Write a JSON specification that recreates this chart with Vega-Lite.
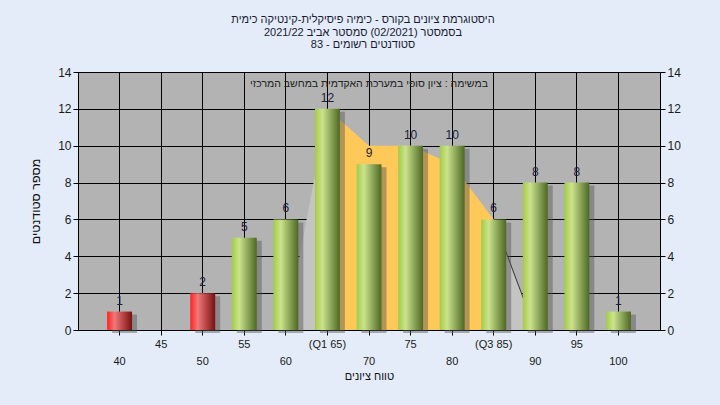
{
  "$schema": "https://vega.github.io/schema/vega-lite/v6.json",
  "width": 582,
  "height": 258,
  "autosize": "none",
  "padding": {"left": 78, "top": 72, "right": 60, "bottom": 75},
  "background": "#e3ecf8",
  "config": {
    "font": "Liberation Sans",
    "view": {"fill": "#b3b3b3", "stroke": "#000000", "strokeWidth": 1},
    "axis": {
      "domainColor": "#000000",
      "tickColor": "#000000",
      "gridColor": "#000000",
      "gridOpacity": 1,
      "gridWidth": 1,
      "labelColor": "#1a1a1a",
      "labelFontSize": 12,
      "titleFontSize": 11,
      "titleFontWeight": "normal",
      "titleColor": "#111111",
      "tickSize": 5
    }
  },
  "title": {
    "text": [
      "היסטוגרמת ציונים בקורס - כימיה פיסיקלית-קינטיקה כימית",
      "בסמסטר  (02/2021)  סמסטר אביב 2021/22",
      "סטודנטים רשומים - 83"
    ],
    "fontSize": 11,
    "fontWeight": "normal",
    "color": "#1a1a33",
    "lineHeight": 12.5,
    "anchor": "middle",
    "offset": 16,
    "dx": -6
  },
  "datasets": {
    "bars": [
      {"grade": "40", "count": 1},
      {"grade": "45", "count": 0},
      {"grade": "50", "count": 2},
      {"grade": "55", "count": 5},
      {"grade": "60", "count": 6},
      {"grade": "(Q1 65)", "count": 12},
      {"grade": "70", "count": 9},
      {"grade": "75", "count": 10},
      {"grade": "80", "count": 10},
      {"grade": "(Q3 85)", "count": 6},
      {"grade": "90", "count": 8},
      {"grade": "95", "count": 8},
      {"grade": "100", "count": 1}
    ],
    "area": [
      {"grade": "60", "count": 0, "seg": "tailL"},
      {"grade": "(Q1 65)", "count": 12, "seg": "tailL"},
      {"grade": "(Q1 65)", "count": 12, "seg": "core"},
      {"grade": "70", "count": 10, "seg": "core"},
      {"grade": "75", "count": 10, "seg": "core"},
      {"grade": "80", "count": 9, "seg": "core"},
      {"grade": "(Q3 85)", "count": 6, "seg": "core"},
      {"grade": "(Q3 85)", "count": 6, "seg": "tailR"},
      {"grade": "90", "count": 0, "seg": "tailR"}
    ]
  },
  "encoding": {
    "x": {
      "field": "grade",
      "type": "nominal",
      "sort": null,
      "scale": {
        "domain": ["40", "45", "50", "55", "60", "(Q1 65)", "70", "75", "80", "(Q3 85)", "90", "95", "100"],
        "paddingInner": 0.4,
        "paddingOuter": 0.7
      },
      "axis": {
        "title": "טווח ציונים",
        "labelAngle": 0,
        "grid": true,
        "labelPadding": 3,
        "labelFontSize": 11,
        "labelLineHeight": 17,
        "labelBaseline": "top",
        "labelExpr": "indexof(['40','50','60','70','80','90','100'], datum.value) >= 0 ? ['', datum.value] : datum.value",
        "titlePadding": 4
      }
    }
  },
  "layer": [
    {
      "data": {"name": "area"},
      "mark": {"type": "area", "interpolate": "linear"},
      "encoding": {
        "y": {"field": "count", "type": "quantitative", "stack": null, "scale": {"domain": [0, 14], "nice": false}, "axis": null},
        "color": {
          "field": "seg",
          "type": "nominal",
          "scale": {"domain": ["tailL", "core", "tailR"], "range": ["#c4c4c4", "#fec958", "#c4c4c4"]},
          "legend": null
        }
      }
    },
    {
      "data": {"name": "area"},
      "transform": [{"filter": "datum.seg == 'tailR'"}],
      "mark": {"type": "line", "color": "#333333", "strokeWidth": 1},
      "encoding": {
        "y": {"field": "count", "type": "quantitative", "scale": {"domain": [0, 14], "nice": false}, "axis": null}
      }
    },
    {
      "data": {"name": "bars"},
      "transform": [{"filter": "datum.count > 0"}],
      "mark": {"type": "bar", "color": "#555555", "opacity": 0.45, "xOffset": 5, "yOffset": 3},
      "encoding": {
        "y": {"field": "count", "type": "quantitative", "scale": {"domain": [0, 14], "nice": false}, "axis": null}
      }
    },
    {
      "data": {"name": "bars"},
      "transform": [{"filter": "datum.count > 0 && indexof(['40','45','50'], datum.grade) >= 0"}],
      "mark": {
        "type": "bar",
        "fill": {
          "gradient": "linear", "x1": 0, "y1": 0, "x2": 1, "y2": 0,
          "stops": [
            {"offset": 0, "color": "#ff2222"},
            {"offset": 0.3, "color": "#f07878"},
            {"offset": 1, "color": "#781010"}
          ]
        }
      },
      "encoding": {
        "y": {
          "field": "count", "type": "quantitative",
          "scale": {"domain": [0, 14], "nice": false},
          "axis": {"orient": "left", "title": "מספר סטודנטים", "titleFontSize": 12.5, "values": [0, 2, 4, 6, 8, 10, 12, 14], "grid": true, "labelPadding": 2, "titlePadding": 15}
        }
      }
    },
    {
      "data": {"name": "bars"},
      "transform": [{"filter": "datum.count > 0 && indexof(['40','45','50'], datum.grade) < 0"}],
      "mark": {
        "type": "bar",
        "fill": {
          "gradient": "linear", "x1": 0, "y1": 0, "x2": 1, "y2": 0,
          "stops": [
            {"offset": 0, "color": "#a3cb46"},
            {"offset": 0.3, "color": "#cbe38e"},
            {"offset": 1, "color": "#4c6822"}
          ]
        }
      },
      "encoding": {
        "y": {"field": "count", "type": "quantitative", "scale": {"domain": [0, 14], "nice": false}, "axis": null}
      }
    },
    {
      "data": {"name": "bars"},
      "transform": [{"filter": "datum.count > 0"}],
      "mark": {"type": "text", "baseline": "bottom", "dy": -4, "fontSize": 12, "color": "#1c1c3a"},
      "encoding": {
        "y": {
          "field": "count", "type": "quantitative",
          "scale": {"domain": [0, 14], "nice": false},
          "axis": {"orient": "right", "title": null, "values": [0, 2, 4, 6, 8, 10, 12, 14], "grid": false, "labelPadding": 2}
        },
        "text": {"field": "count", "type": "quantitative"}
      }
    },
    {
      "data": {"values": [{"note": "במשימה : ציון סופי במערכת האקדמית במחשב המרכזי"}]},
      "mark": {"type": "text", "fontSize": 10.5, "color": "#222222", "baseline": "middle"},
      "encoding": {
        "x": {"datum": "70", "type": "nominal"},
        "y": {"datum": 13.35, "type": "quantitative", "scale": {"domain": [0, 14], "nice": false}, "axis": null},
        "text": {"field": "note", "type": "nominal"}
      }
    }
  ],
  "resolve": {"axis": {"y": "independent"}}
}
